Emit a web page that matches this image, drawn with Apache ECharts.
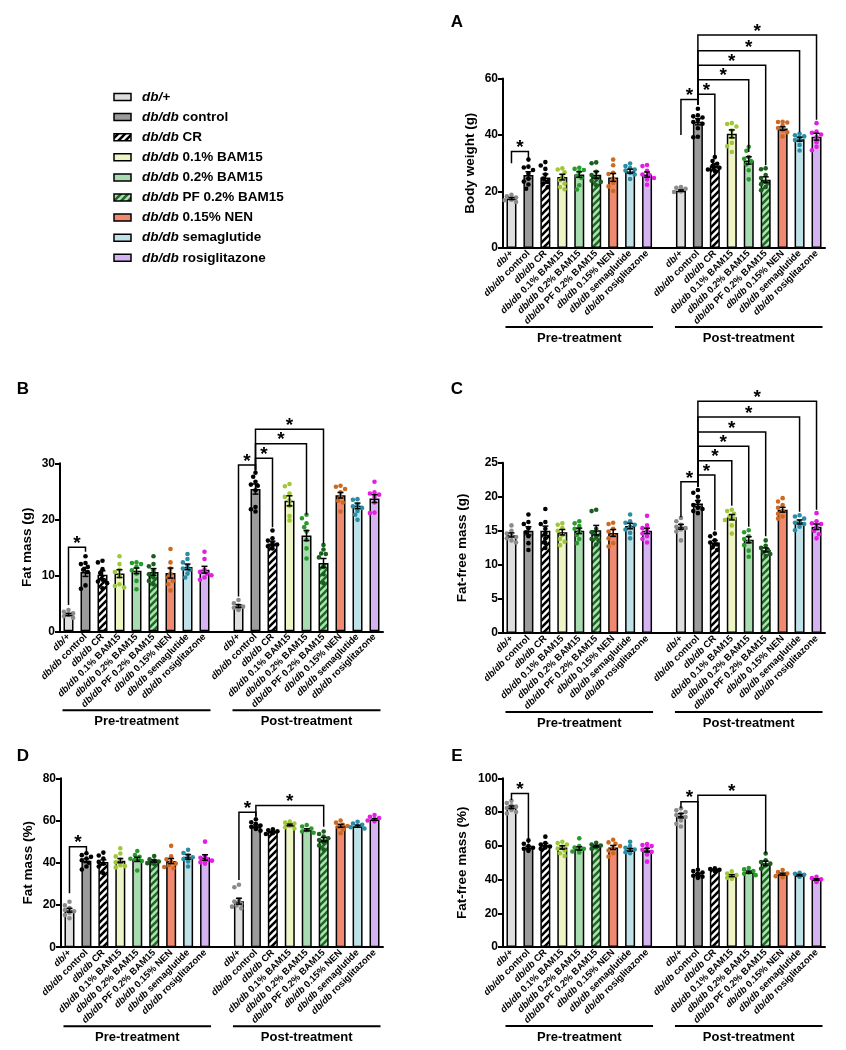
<!DOCTYPE html>
<html>
<head>
<meta charset="utf-8">
<script src="https://cdn.jsdelivr.net/npm/echarts@6/dist/echarts.min.js"></script>
<style>
  html, body { margin: 0; padding: 0; background: #fff; }
  #chart { width: 846px; height: 1050px; }
</style>
</head>
<body>
<div id="chart"></div>
<script>
// group names (x tick labels, same for pre and post)
const groups = ['db/+', 'db/db control', 'db/db CR', 'db/db 0.1% BAM15', 'db/db 0.2% BAM15',
  'db/db PF 0.2% BAM15', 'db/db 0.15% NEN', 'db/db semaglutide', 'db/db rosiglitazone'];
const periodTitles = ['Pre-treatment', 'Post-treatment'];

// ---- A: body weight (g)
const bodyWeightPre = [17.5, 25.8, 25.0, 25.1, 26.0, 25.9, 25.0, 27.2, 26.0];
const bodyWeightPost = [20.3, 44.7, 29.1, 40.4, 31.0, 24.2, 42.3, 38.5, 39.4];
const bodyWeightPreSem = [0.35, 1.2, 1.2, 1.0, 1.0, 1.2, 1.4, 0.7, 0.9];
const bodyWeightPostSem = [0.25, 1.1, 0.7, 1.4, 1.3, 1.0, 0.6, 0.7, 1.2];
const bodyWeightPrePoints = [
  [16.3, 16.9, 17.3, 17.6, 17.9, 18.3, 18.8, 17.1],
  [31.3, 28.8, 28.5, 27.6, 26.3, 24.5, 22.5, 21.0, 23.5],
  [30.4, 29.2, 28.0, 26.0, 24.6, 23.4, 22.8, 21.5],
  [28.2, 27.8, 26.8, 25.4, 24.0, 22.8, 21.6, 20.8],
  [28.4, 28.0, 27.6, 27.0, 25.6, 24.8, 22.2, 20.7],
  [30.3, 30.0, 27.0, 25.8, 24.6, 23.4, 22.2, 23.8],
  [31.3, 29.3, 26.6, 26.2, 24.6, 23.0, 21.8, 20.2],
  [29.9, 29.0, 28.3, 27.8, 27.4, 26.6, 26.0, 24.4],
  [29.4, 29.0, 27.3, 26.0, 25.8, 24.8, 24.3, 22.4]
];
const bodyWeightPostPoints = [
  [19.8, 20.2, 20.5, 20.8, 21.0, 21.3, 21.6, 20.0],
  [49.3, 47.0, 46.6, 46.2, 45.3, 44.6, 44.0, 42.4, 39.4, 39.2],
  [32.2, 30.8, 29.8, 29.0, 28.4, 27.8, 27.3],
  [44.2, 43.9, 43.0, 41.6, 39.3, 37.2, 36.0, 34.0],
  [35.8, 34.4, 32.2, 31.6, 30.8, 29.6, 27.5, 24.3],
  [28.2, 27.9, 25.8, 24.8, 23.4, 22.6, 21.6, 20.4],
  [44.7, 44.6, 44.4, 43.4, 42.5, 41.6, 41.0, 39.5],
  [40.4, 39.9, 39.5, 39.0, 38.6, 38.2, 36.5, 34.5],
  [44.2, 41.2, 40.8, 40.2, 39.3, 37.4, 35.8, 34.6]
];
// [from slot, to slot, top, left leg end, right leg end]
const bodyWeightBrackets = [
  [0, 1, 34.2, 30.0, 31.7],
  [10, 11, 52.6, 40.0, 50.8],
  [11, 12, 54.4, 50.8, 31.3],
  [11, 14, 59.6, 50.8, 34.0],
  [11, 15, 64.7, 50.8, 29.3],
  [11, 17, 69.8, 50.8, 41.0],
  [11, 18, 75.4, 50.8, 45.4]
];

// ---- B: fat mass (g)
const fatMassPre = [3.0, 10.6, 10.1, 10.3, 10.8, 10.6, 10.4, 11.5, 11.0];
const fatMassPost = [4.5, 25.4, 15.7, 23.3, 17.1, 12.2, 24.3, 22.4, 23.7];
const fatMassPreSem = [0.2, 0.8, 0.7, 0.7, 0.5, 0.6, 0.9, 0.5, 0.6];
const fatMassPostSem = [0.25, 0.9, 0.4, 0.9, 0.9, 0.8, 0.5, 0.5, 0.7];
const fatMassPrePoints = [
  [2.4, 2.7, 3.0, 3.2, 3.5, 3.8, 2.9],
  [13.4, 12.2, 12.0, 11.5, 11.0, 10.6, 8.2, 7.6],
  [12.6, 12.3, 11.1, 10.4, 9.2, 8.6, 7.7, 8.9],
  [13.4, 12.0, 11.0, 10.6, 9.8, 8.4, 8.1, 7.8],
  [12.3, 12.2, 12.0, 11.5, 10.9, 10.3, 9.0, 7.5],
  [13.4, 12.0, 11.6, 10.8, 10.2, 9.6, 9.0, 8.4],
  [14.7, 12.3, 11.2, 10.3, 9.6, 9.0, 8.4, 7.3],
  [13.8, 12.9, 12.3, 11.7, 11.0, 10.3, 9.6, 11.2],
  [14.2, 12.9, 11.0, 10.6, 10.3, 10.0, 9.6, 9.2]
];
const fatMassPostPoints = [
  [5.6, 5.0, 4.6, 4.4, 4.2, 4.0, 3.8],
  [28.3, 27.6, 26.7, 26.2, 26.0, 25.2, 22.2, 21.8, 21.4],
  [18.0, 16.6, 16.2, 15.8, 15.5, 15.2, 14.8],
  [26.3, 25.9, 24.6, 24.0, 23.4, 22.4, 20.6, 19.8],
  [20.8, 20.2, 19.3, 18.6, 17.8, 16.3, 14.8, 13.0],
  [15.4, 14.6, 13.9, 13.8, 13.2, 11.5, 10.2, 8.6],
  [26.0, 25.8, 25.4, 24.8, 24.0, 23.3, 23.0, 21.4],
  [23.6, 23.5, 22.6, 22.3, 22.0, 21.5, 20.8, 19.9],
  [26.7, 24.8, 24.6, 24.4, 24.0, 23.0, 21.2, 21.1]
];
const fatMassBrackets = [
  [0, 1, 15.0, 4.7, 14.2],
  [10, 11, 29.7, 6.2, 28.7],
  [11, 12, 30.9, 28.7, 18.6],
  [11, 14, 33.5, 28.7, 20.8],
  [11, 15, 36.1, 28.7, 15.7]
];

// ---- C: fat-free mass (g)
const fatFreeMassPre = [14.4, 15.0, 15.0, 14.8, 15.0, 15.1, 14.7, 15.7, 15.0];
const fatFreeMassPost = [15.6, 19.0, 13.3, 17.0, 13.7, 12.2, 18.1, 16.3, 15.6];
const fatFreeMassPreSem = [0.3, 0.6, 0.7, 0.4, 0.4, 0.7, 0.5, 0.4, 0.4];
const fatFreeMassPostSem = [0.35, 0.45, 0.3, 0.4, 0.45, 0.3, 0.35, 0.3, 0.4];
const fatFreeMassPrePoints = [
  [15.8, 15.0, 14.6, 14.3, 14.1, 13.9, 13.6, 13.3],
  [17.4, 16.3, 16.0, 15.4, 14.8, 14.2, 13.2, 12.2],
  [18.2, 16.3, 16.0, 15.3, 14.6, 13.9, 13.2, 12.5],
  [16.1, 15.9, 15.4, 15.0, 14.4, 13.8, 13.4, 12.9],
  [16.4, 16.1, 15.7, 15.3, 15.0, 14.4, 13.8, 13.2],
  [18.1, 17.9, 15.3, 14.8, 14.2, 13.6, 13.0, 13.8],
  [16.2, 16.0, 15.3, 14.9, 14.3, 13.9, 13.2, 12.7],
  [17.4, 16.4, 16.2, 15.9, 15.6, 15.2, 14.7, 13.9],
  [17.2, 15.8, 15.4, 15.0, 14.6, 14.2, 13.8, 13.3]
];
const fatFreeMassPostPoints = [
  [16.9, 16.4, 15.9, 15.6, 15.4, 15.2, 14.9, 13.6],
  [21.0, 20.6, 20.0, 19.3, 18.8, 18.4, 18.2, 17.9, 17.6],
  [14.6, 14.2, 13.6, 13.3, 13.0, 12.6, 12.2],
  [18.1, 17.9, 17.5, 17.1, 16.8, 16.6, 15.8, 14.6],
  [15.1, 14.8, 14.2, 13.8, 13.4, 12.9, 12.1, 11.2],
  [13.6, 12.8, 12.5, 12.2, 11.9, 11.6, 11.3],
  [19.8, 19.3, 18.8, 18.4, 17.9, 17.5, 17.1, 16.8],
  [17.3, 17.1, 16.8, 16.4, 16.0, 15.6, 15.1, 16.2],
  [17.6, 16.4, 16.1, 15.6, 15.0, 14.5, 13.9, 16.0]
];
const fatFreeMassBrackets = [
  [10, 11, 22.2, 17.0, 21.5],
  [11, 12, 23.2, 21.5, 15.1],
  [11, 13, 25.3, 21.5, 18.7],
  [11, 14, 27.4, 21.5, 15.6],
  [11, 15, 29.5, 21.5, 14.2],
  [11, 17, 31.7, 21.5, 17.8],
  [11, 18, 34.0, 21.5, 18.1]
];

// ---- D: fat mass (%)
const fatPctPre = [17.5, 41.0, 40.3, 41.0, 41.6, 40.8, 40.8, 42.8, 42.5];
const fatPctPost = [21.8, 57.3, 54.6, 57.9, 55.6, 51.0, 57.5, 57.3, 60.5];
const fatPctPreSem = [0.9, 0.9, 1.1, 1.0, 1.0, 0.5, 1.2, 1.1, 1.3];
const fatPctPostSem = [1.4, 0.6, 0.3, 0.4, 0.5, 1.0, 0.7, 0.5, 0.4];
const fatPctPrePoints = [
  [21.5, 19.8, 18.6, 17.6, 17.0, 16.4, 15.2, 13.7],
  [44.5, 43.6, 42.8, 42.0, 41.2, 40.0, 38.2, 36.8],
  [44.8, 43.4, 42.0, 40.4, 39.6, 38.2, 35.0],
  [46.9, 44.4, 43.0, 41.5, 40.2, 38.8, 37.8, 38.4],
  [45.6, 43.6, 42.8, 41.9, 41.4, 40.8, 36.3],
  [43.2, 41.6, 41.0, 40.6, 40.2, 39.8, 39.4, 40.0],
  [48.0, 43.0, 41.6, 40.6, 39.6, 38.8, 38.0, 37.4],
  [46.1, 44.6, 43.4, 42.6, 41.8, 40.6, 38.2],
  [50.0, 43.2, 42.4, 41.4, 40.8, 40.2, 39.6, 41.0]
];
const fatPctPostPoints = [
  [29.6, 28.4, 22.4, 21.6, 20.6, 19.8, 19.2, 18.4],
  [60.6, 59.2, 58.4, 57.6, 57.0, 56.4, 56.0, 55.2],
  [55.9, 55.4, 54.9, 54.4, 54.0, 53.6],
  [59.5, 59.0, 58.6, 58.0, 57.4, 56.8, 56.2],
  [57.9, 57.2, 56.2, 55.4, 54.8, 54.2],
  [54.8, 53.6, 52.4, 51.6, 50.8, 49.6, 48.2, 46.2],
  [60.0, 59.0, 58.0, 57.4, 56.8, 55.8, 54.0],
  [59.4, 58.6, 58.0, 57.4, 56.8, 56.2],
  [62.6, 61.8, 61.2, 60.6, 60.0, 59.6]
];
const fatPctBrackets = [
  [0, 1, 47.6, 25.5, 45.0],
  [10, 11, 63.9, 31.8, 61.8],
  [11, 15, 67.1, 61.8, 57.1]
];

// ---- E: fat-free mass (%)
const fatFreePctPre = [82.8, 59.0, 60.5, 59.0, 58.4, 59.8, 59.0, 57.6, 57.4];
const fatFreePctPost = [77.8, 43.0, 45.8, 42.3, 44.4, 49.6, 43.2, 42.6, 40.0];
const fatFreePctPreSem = [0.8, 0.7, 0.9, 1.0, 1.0, 0.5, 1.2, 0.8, 1.1];
const fatFreePctPostSem = [1.3, 0.6, 0.3, 0.6, 0.6, 1.3, 0.6, 0.4, 0.4];
const fatFreePctPrePoints = [
  [86.7, 85.3, 84.0, 83.2, 82.4, 81.2, 80.0, 79.2],
  [63.2, 61.2, 59.8, 58.8, 58.2, 57.6, 57.0],
  [65.4, 61.6, 60.8, 59.6, 59.0, 58.2],
  [62.4, 61.6, 60.8, 59.6, 58.4, 57.2, 55.6, 54.0],
  [64.4, 59.8, 59.0, 58.2, 57.4, 56.6, 56.0],
  [61.8, 60.8, 60.2, 59.6, 59.0, 58.2],
  [63.6, 62.0, 61.2, 59.8, 58.6, 57.2, 55.6, 53.6],
  [62.4, 59.8, 58.8, 57.8, 57.0, 56.2, 55.6],
  [61.0, 60.4, 59.8, 58.6, 57.6, 56.4, 54.8, 50.6]
];
const fatFreePctPostPoints = [
  [82.2, 81.0, 80.0, 79.0, 78.2, 77.0, 75.0, 73.0, 71.4],
  [45.8, 45.0, 44.2, 43.4, 42.8, 42.2, 41.6, 41.0],
  [46.6, 46.2, 45.8, 45.4, 45.0],
  [44.8, 43.6, 42.6, 41.8, 41.0, 40.4],
  [46.8, 46.0, 45.0, 44.2, 43.4, 42.6],
  [55.4, 51.4, 50.4, 49.4, 48.4, 46.4],
  [45.6, 44.4, 43.6, 42.8, 42.0, 41.4],
  [44.0, 43.4, 42.8, 42.2, 41.6],
  [41.6, 40.8, 40.2, 39.6, 39.0, 38.6]
];
const fatFreePctBrackets = [
  [0, 1, 91.0, 87.1, 61.4],
  [10, 11, 86.1, 82.2, 46.0],
  [11, 15, 90.0, 46.0, 55.5]
];

// ---- styles
const FONT = '"Liberation Sans", Arial, sans-serif';

function hatch(bg, fg) {
  const s = 7;
  const c = document.createElement('canvas');
  c.width = s; c.height = s;
  const g = c.getContext('2d');
  g.fillStyle = bg; g.fillRect(0, 0, s, s);
  g.strokeStyle = fg; g.lineWidth = 2.6;
  g.beginPath();
  g.moveTo(-s, s); g.lineTo(s, -s);
  g.moveTo(0, 2 * s); g.lineTo(2 * s, 0);
  g.moveTo(0, s); g.lineTo(s, 0);
  g.stroke();
  return { image: c, repeat: 'repeat' };
}

const barFills = ['#dedede', '#9b9b9b', hatch('#ffffff', '#000000'), '#eef4c4', '#a9dbb0',
  hatch('#b3e2b9', '#1d6a22'), '#f0896f', '#bfe2e8', '#d5b3f2'];
const dotColors = ['#8a8a8a', '#000000', '#000000', '#a0c63a', '#2a9a2e', '#1b5e20', '#cd6a22', '#2b8ca3', '#e31ee3'];

function groupOf(slot) { return slot < 9 ? slot : slot - 10; }
const slotNames = groups.concat([''], groups);
const slotKeys = slotNames.map((n, i) => i + '|' + n);

function richName(name) {
  if (name.indexOf('db/db ') === 0) return '{i|db/db}{b| ' + name.slice(6) + '}';
  return name ? '{i|' + name + '}' : '';
}

function swarm(ys, r) {
  const order = ys.map((y, i) => i).sort((a, b) => ys[a] - ys[b]);
  const placed = [];
  const off = [];
  const cands = [0, -1, 1, -2, 2, -3, 3];
  order.forEach(i => {
    let done = false;
    for (const c of cands) {
      const dx = c * r;
      if (placed.every(p => Math.hypot(p[0] - dx, p[1] - ys[i]) >= r * 1.9)) {
        off[i] = dx; placed.push([dx, ys[i]]); done = true; break;
      }
    }
    if (!done) { off[i] = 0; placed.push([0, ys[i]]); }
  });
  return off;
}

const panels = [
  { letter: 'A', lx: 457, ly: 22, left: 503, top: 78.5, width: 322, height: 169.5, max: 60, step: 20,
    yName: 'Body weight (g)', nameGap: 26,
    pre: bodyWeightPre, post: bodyWeightPost, preSem: bodyWeightPreSem, postSem: bodyWeightPostSem,
    prePts: bodyWeightPrePoints, postPts: bodyWeightPostPoints, brackets: bodyWeightBrackets },
  { letter: 'B', lx: 23, ly: 389, left: 60, top: 463.3, width: 323, height: 168, max: 30, step: 10,
    yName: 'Fat mass (g)', nameGap: 26,
    pre: fatMassPre, post: fatMassPost, preSem: fatMassPreSem, postSem: fatMassPostSem,
    prePts: fatMassPrePoints, postPts: fatMassPostPoints, brackets: fatMassBrackets },
  { letter: 'C', lx: 457, ly: 389, left: 503, top: 462.7, width: 322, height: 170.4, max: 25, step: 5,
    yName: 'Fat-free mass (g)', nameGap: 34,
    pre: fatFreeMassPre, post: fatFreeMassPost, preSem: fatFreeMassPreSem, postSem: fatFreeMassPostSem,
    prePts: fatFreeMassPrePoints, postPts: fatFreeMassPostPoints, brackets: fatFreeMassBrackets },
  { letter: 'D', lx: 23, ly: 756, left: 61, top: 778.3, width: 322, height: 168.9, max: 80, step: 20,
    yName: 'Fat mass (%)', nameGap: 26,
    pre: fatPctPre, post: fatPctPost, preSem: fatPctPreSem, postSem: fatPctPostSem,
    prePts: fatPctPrePoints, postPts: fatPctPostPoints, brackets: fatPctBrackets },
  { letter: 'E', lx: 457, ly: 756, left: 503, top: 778.3, width: 322, height: 168.7, max: 100, step: 20,
    yName: 'Fat-free mass (%)', nameGap: 34,
    pre: fatFreePctPre, post: fatFreePctPost, preSem: fatFreePctPreSem, postSem: fatFreePctPostSem,
    prePts: fatFreePctPrePoints, postPts: fatFreePctPostPoints, brackets: fatFreePctBrackets }
];

const option = {
  animation: false,
  backgroundColor: '#fff',
  textStyle: { fontFamily: FONT },
  grid: [], xAxis: [], yAxis: [], series: [], graphic: []
};

panels.forEach((p, k) => {
  option.grid.push({ left: p.left, top: p.top, width: p.width, height: p.height, outerBoundsMode: 'none' });
  option.xAxis.push({
    type: 'category', gridIndex: k, data: slotKeys,
    axisLine: { onZero: false, lineStyle: { color: '#000', width: 2 } },
    axisTick: { show: false },
    axisLabel: {
      interval: 0, rotate: 45, margin: 4, color: '#000', hideOverlap: false,
      formatter: v => richName(v.slice(v.indexOf('|') + 1)),
      rich: {
        i: { fontFamily: FONT, fontSize: 9.5, fontWeight: 'bold', fontStyle: 'italic', color: '#000' },
        b: { fontFamily: FONT, fontSize: 9.5, fontWeight: 'bold', color: '#000' }
      }
    },
    splitLine: { show: false }
  });
  option.yAxis.push({
    type: 'value', gridIndex: k, min: 0, max: p.max, interval: p.step,
    name: p.yName, nameLocation: 'middle', nameGap: p.nameGap,
    nameTextStyle: { fontFamily: FONT, fontSize: 13.5, fontWeight: 'bold', color: '#000' },
    axisLine: { show: true, onZero: false, lineStyle: { color: '#000', width: 2 } },
    axisTick: { show: true, length: 5, lineStyle: { color: '#000', width: 2 } },
    axisLabel: { fontFamily: FONT, fontSize: 12, fontWeight: 'bold', color: '#000', margin: 5 },
    splitLine: { show: false }
  });

  const means = p.pre.concat(['-'], p.post);
  const sems = p.preSem.concat([0], p.postSem);
  const pts = p.prePts.concat([[]], p.postPts);

  option.series.push({
    type: 'bar', xAxisIndex: k, yAxisIndex: k, barWidth: 10, z: 2,
    data: means.map((v, s) => ({
      value: v,
      itemStyle: { color: barFills[groupOf(s)], borderColor: '#000', borderWidth: 1.5 }
    }))
  });

  const dotData = [];
  pts.forEach((arr, s) => arr.forEach((v, j) => dotData.push([s, v, j])));
  const swarmCache = {};
  option.series.push({
    type: 'custom', xAxisIndex: k, yAxisIndex: k, z: 3, clip: false,
    encode: { x: 0, y: 1 },
    data: dotData,
    renderItem: (params, api) => {
      const s = api.value(0), v = api.value(1), j = api.value(2);
      if (!swarmCache[s]) swarmCache[s] = swarm(pts[s].map(x => api.coord([s, x])[1]), 2.3);
      const c = api.coord([s, v]);
      return { type: 'circle', shape: { cx: c[0] + swarmCache[s][j], cy: c[1], r: 2.3 },
        style: { fill: dotColors[groupOf(s)] } };
    }
  });

  const errData = [];
  means.forEach((m, s) => { if (m !== '-') errData.push([s, m, sems[s]]); });
  option.series.push({
    type: 'custom', xAxisIndex: k, yAxisIndex: k, z: 4, clip: false,
    encode: { x: 0, y: 1 },
    data: errData,
    renderItem: (params, api) => {
      const s = api.value(0), m = api.value(1), e = api.value(2);
      const hi = api.coord([s, m + e]), lo = api.coord([s, m - e]);
      const st = { stroke: '#000', lineWidth: 1.5 };
      return { type: 'group', children: [
        { type: 'line', shape: { x1: hi[0], y1: hi[1], x2: lo[0], y2: lo[1] }, style: st },
        { type: 'line', shape: { x1: hi[0] - 3, y1: hi[1], x2: hi[0] + 3, y2: hi[1] }, style: st },
        { type: 'line', shape: { x1: lo[0] - 3, y1: lo[1], x2: lo[0] + 3, y2: lo[1] }, style: st }
      ] };
    }
  });

  option.series.push({
    type: 'custom', xAxisIndex: k, yAxisIndex: k, z: 5, clip: false,
    encode: { x: [0, 1], y: [2, 3, 4] },
    data: p.brackets,
    renderItem: (params, api) => {
      const a = api.value(0), b = api.value(1);
      const top = api.coord([a, api.value(2)])[1];
      const l = api.coord([a, api.value(3)]);
      const r = api.coord([b, api.value(4)]);
      return { type: 'group', children: [
        { type: 'polyline', shape: { points: [[l[0], l[1]], [l[0], top], [r[0], top], [r[0], r[1]]] },
          style: { stroke: '#000', lineWidth: 1.5, fill: 'none' } },
        { type: 'text', x: (l[0] + r[0]) / 2, y: top + 6,
          style: { text: '*', font: 'bold 19px ' + FONT, fill: '#000', align: 'center', verticalAlign: 'bottom' } }
      ] };
    }
  });

  option.series.push({
    type: 'custom', xAxisIndex: k, yAxisIndex: k, z: 5, clip: false,
    encode: { x: [0, 1] },
    data: [[0, 8, 0], [10, 18, 1]],
    renderItem: (params, api) => {
      const a = api.coord([api.value(0), 0]), b = api.coord([api.value(1), 0]);
      const y = a[1] + 79;
      return { type: 'group', children: [
        { type: 'line', shape: { x1: a[0] - 6, y1: y, x2: b[0] + 6, y2: y }, style: { stroke: '#000', lineWidth: 2 } },
        { type: 'text', x: (a[0] + b[0]) / 2, y: y + 11,
          style: { text: periodTitles[api.value(2)], font: 'bold 13px ' + FONT, fill: '#000',
            align: 'center', verticalAlign: 'middle' } }
      ] };
    }
  });

  option.graphic.push({ type: 'text', x: p.lx, y: p.ly,
    style: { text: p.letter, font: 'bold 17px ' + FONT, fill: '#000', align: 'center', verticalAlign: 'middle' } });
});

// legend
groups.forEach((g, i) => {
  const y = 97 + i * 20.1;
  option.graphic.push({ type: 'rect', shape: { x: 114, y: y - 3.5, width: 17, height: 7 },
    style: { fill: barFills[i], stroke: '#000', lineWidth: 1.5 } });
  option.graphic.push({ type: 'text', x: 142, y: y,
    style: { text: richName(g), verticalAlign: 'middle', align: 'left',
      rich: {
        i: { fontFamily: FONT, fontSize: 13.5, fontWeight: 'bold', fontStyle: 'italic', fill: '#000' },
        b: { fontFamily: FONT, fontSize: 13.5, fontWeight: 'bold', fill: '#000' }
      } } });
});

const chart = echarts.init(document.getElementById('chart'));
chart.setOption(option);
</script>
</body>
</html>
